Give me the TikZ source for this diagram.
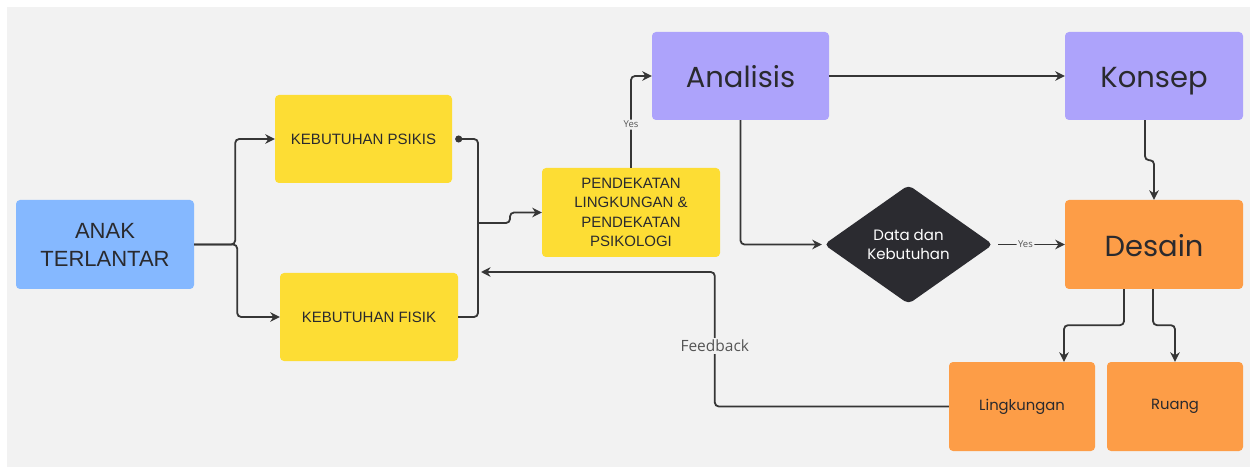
\documentclass[tikz,border=0pt]{standalone}
\usepackage{fontspec}
\setmainfont{Liberation Sans}
\newfontfamily\popfont{Poppins}
\newfontfamily\osfont{Open Sans}
\usetikzlibrary{arrows.meta,shapes.geometric}
\definecolor{bgc}{HTML}{F2F2F2}
\definecolor{bluec}{HTML}{85B8FF}
\definecolor{yelc}{HTML}{FDDD34}
\definecolor{purc}{HTML}{ADA3FB}
\definecolor{orac}{HTML}{FD9D47}
\definecolor{dkc}{HTML}{2B2B30}
\definecolor{linec}{HTML}{363636}
\definecolor{txtc}{HTML}{2A2A2E}
\definecolor{grayt}{HTML}{555555}
\tikzset{
  box/.style={rounded corners=4pt, inner sep=0pt, align=center, text=txtc},
  smallbox/.style={box, minimum width=178pt, minimum height=89pt, fill=yelc, font=\fontsize{15}{19.5}\selectfont},
  bigbox/.style={box, minimum width=178pt, minimum height=89pt, text height=24pt, text depth=0pt, font=\popfont\fontsize{29}{34}\selectfont},
  outbox/.style={box, minimum height=89pt, fill=orac, font=\popfont\fontsize{14.8}{18}\selectfont},
  conn/.style={draw=linec, line width=1.8pt, rounded corners=4pt},
  arr/.style={conn, -{Stealth[length=9.5pt,width=9.5pt,inset=3pt]}},
  lbl/.style={fill=bgc, inner sep=1.5pt, text=grayt, font=\osfont\fontsize{9.5}{11}\selectfont},
  fblbl/.style={fill=bgc, inner sep=2pt, text=grayt, font=\osfont\fontsize{15.5}{18}\selectfont},
}
\begin{document}
\begin{tikzpicture}[x=1pt,y=-1pt]
\useasboundingbox (0,0) rectangle (1253,470);
\fill[white] (0,0) rectangle (1253,470);
\fill[bgc] (7,7) rectangle (1250,467);

\node[box, fill=bluec, minimum width=178pt, minimum height=89pt, font=\fontsize{22}{28}\selectfont] (anak) at (105,244.5) {ANAK\\TERLANTAR};
\node[smallbox, minimum width=177pt, minimum height=88pt] (psikis) at (363.5,139) {KEBUTUHAN PSIKIS};
\node[smallbox, minimum height=88pt] (fisik) at (369,317) {KEBUTUHAN FISIK};
\node[smallbox] (pend) at (631,212.5) {PENDEKATAN\\LINGKUNGAN \&\\PENDEKATAN\\PSIKOLOGI};
\node[bigbox, fill=purc, minimum width=177pt, minimum height=88pt] (anal) at (740.5,76) {Analisis};
\node[bigbox, fill=purc, minimum height=88pt] (konsep) at (1154,76) {Konsep};
\node[bigbox, fill=orac] (desain) at (1154,244.5) {Desain};
\node[diamond, fill=dkc, rounded corners=5pt, minimum width=169pt, minimum height=119pt, inner sep=0pt, aspect=1.42, align=center, text=white, font=\popfont\fontsize{15}{19}\selectfont] (dat) at (908.5,244.5) {Data dan\\Kebutuhan};
\node[outbox, minimum width=146pt] (ling) at (1022,406.5) {Lingkungan};
\node[outbox, minimum width=136pt] (ruang) at (1175,406.5) {Ruang};

\coordinate (merge) at (478,223);
\coordinate (fbend) at (481,272);

% from ANAK
\draw[arr] (anak.east) -- ++(41,0) |- (psikis.west);
\draw[arr] (anak.east) -- ++(43,0) |- (fisik.west);
% into merge
\draw[conn, {Circle[length=7pt]}-] ([xshift=3pt]psikis.east) -| (merge);
\draw[conn] (fisik.east) -| (merge);
\draw[arr] (merge) -- ++(32,0) |- (pend.west);
% pend -> analisis
\draw[arr] (pend.north) |- node[lbl, pos=0.235] {Yes} (anal.west);
% analisis -> konsep
\draw[arr] (anal.east) -- (konsep.west);
% analisis -> diamond
\draw[arr] (anal.south) |- ([xshift=-2pt]dat.west);
% diamond -> desain
\draw[arr, shorten <=5pt] (dat.east) -- node[lbl, pos=0.45] {Yes} (desain.west);
% konsep -> desain
\draw[arr] ([xshift=-9pt]konsep.south) -- ++(0,40) -| (desain.north);
% desain -> outputs
\draw[arr] ([xshift=-30pt]desain.south) -- ++(0,36) -| ([xshift=42pt]ling.north);
\draw[arr] ([xshift=-1pt]desain.south) -- ++(0,36) -| (ruang.north);
% feedback
\draw[arr] (ling.west) -- ++(-234,0) |- node[fblbl, pos=0.225] {Feedback} (fbend);
\end{tikzpicture}
\end{document}
